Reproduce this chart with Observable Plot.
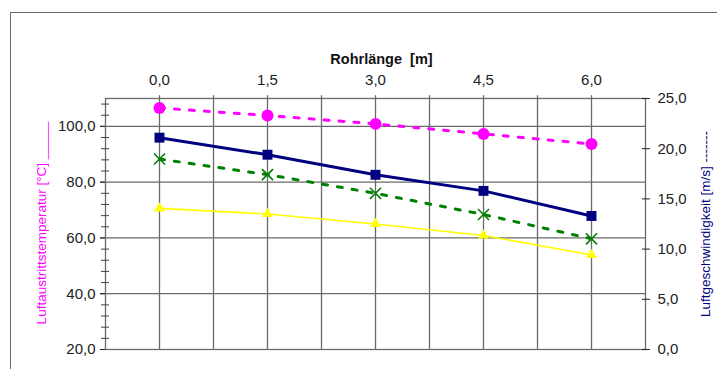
<!DOCTYPE html>
<html><head><meta charset="utf-8">
<script src="https://cdn.jsdelivr.net/npm/d3@7"></script>
<script src="https://cdn.jsdelivr.net/npm/@observablehq/plot@0.6"></script>
<style>
html,body{margin:0;padding:0;background:#fff;overflow:hidden;}
#wrap{position:relative;width:717px;height:369px;overflow:hidden;}
#border{position:absolute;left:10px;top:12px;width:800px;height:400px;border-top:1.5px solid #6e6e6e;border-left:1.5px solid #6e6e6e;pointer-events:none;}
#chart{position:absolute;left:0;top:0;}
</style></head><body>
<div id="wrap"><div id="chart"></div><div id="border"></div></div>
<script>
// x: Rohrlänge [m]
const positions = [0, 1.5, 3.0, 4.5, 6.0];
// left axis series (°C)
const tempMagenta = [106.6, 103.9, 100.9, 97.3, 93.7];
const tempGreen = [88.3, 82.7, 76.0, 68.4, 59.7];
const tempYellow = [70.6, 68.6, 65.0, 60.9, 53.9];
// right axis series (m/s)
const speedNavy = [21.1, 19.4, 17.4, 15.8, 13.3];
// ticks
const xTicks = [0, 1.5, 3.0, 4.5, 6.0];
const xGrid = [0, 0.75, 1.5, 2.25, 3.0, 3.75, 4.5, 5.25, 6.0];
const leftTicks = [20, 40, 60, 80, 100];
const leftMinor = [24, 28, 32, 36, 44, 48, 52, 56, 64, 68, 72, 76, 84, 88, 92, 96, 104, 108];
const rightTicks = [0, 5, 10, 15, 20, 25];
const xTitle = "Rohrlänge \u00a0[m]";
const leftTitle = "Luftaustrittstemperatur [°C] _____";
const rightTitle = "Luftgeschwindigkeit [m/s] -------";

const yDomain = [20, 110];
const rightDomain = [0, 25];
const toLeft = d3.scaleLinear().domain(rightDomain).range(yDomain);
const fmt = d => d.toFixed(1).replace(".", ",");

const mk = arr => positions.map((x, i) => ({x, y: arr[i]}));
const magenta = mk(tempMagenta);
const green = mk(tempGreen);
const yellow = mk(tempYellow);
const navy = positions.map((x, i) => ({x, y: toLeft(speedNavy[i])}));

const gridColor = "#6a6a6a";
const chart = Plot.plot({
  width: 717,
  height: 369,
  marginLeft: 105,
  marginRight: 72,
  marginTop: 98,
  marginBottom: 20,
  style: {fontFamily: "'Liberation Sans', Arial, sans-serif", fontSize: "15px", background: "transparent"},
  x: {domain: [-0.75, 6.75], axis: null},
  y: {domain: yDomain, axis: null},
  marks: [
    Plot.ruleY(leftTicks.slice(1), {stroke: gridColor, strokeWidth: 1.3, insetLeft: -5}),
    Plot.ruleX(xGrid, {y1: 20, y2: 111, stroke: gridColor, strokeWidth: 1.3}),
    Plot.frame({stroke: gridColor, strokeWidth: 1.3}),
    Plot.axisY(leftTicks, {anchor: "left", tickSize: 5, tickPadding: 5, tickFormat: fmt, label: null, color: "#222", fontSize: 15}),
    Plot.axisY(leftMinor, {anchor: "left", tickSize: 8, dx: 4, tickFormat: () => "", label: null, stroke: "#444"}),
    Plot.axisY(rightTicks.map(toLeft), {anchor: "right", tickSize: 8, dx: -4, tickPadding: 8, tickFormat: d => fmt(toLeft.invert(d)), label: null, color: "#222", fontSize: 15}),
    Plot.axisX(xTicks, {anchor: "top", tickSize: 0, tickPadding: 14, tickFormat: fmt, label: null, color: "#222", fontSize: 15}),
    Plot.text([xTitle], {frameAnchor: "top", dx: 6, dy: -45, fontWeight: "bold", fontSize: 14.5, fill: "#111"}),
    Plot.text([leftTitle], {frameAnchor: "left", textAnchor: "middle", dx: -64, dy: -1, rotate: -90, fontSize: 13.5, fill: "#ff00ff"}),
    Plot.text([rightTitle], {frameAnchor: "right", textAnchor: "middle", dx: 60, dy: 0, rotate: -90, fontSize: 13.5, fill: "#000080"}),
    // series
    Plot.line(yellow, {x: "x", y: "y", stroke: "#ffff00", strokeWidth: 1.6}),
    Plot.dot(yellow, {x: "x", y: "y", symbol: "triangle", r: 4, fill: "#ffff00", stroke: "none"}),
    Plot.line(green, {x: "x", y: "y", stroke: "#008000", strokeWidth: 3, strokeDasharray: "5,10"}),
    Plot.dot(green, {x: "x", y: "y", symbol: "times", r: 5.1, stroke: "#008000", strokeWidth: 1.6}),
    Plot.line(navy, {x: "x", y: "y", stroke: "#000080", strokeWidth: 3}),
    Plot.dot(navy, {x: "x", y: "y", symbol: "square", r: 5.6, fill: "#000080", stroke: "none"}),
    Plot.line(magenta, {x: "x", y: "y", stroke: "#ff00ff", strokeWidth: 3, strokeDasharray: "5,10"}),
    Plot.dot(magenta, {x: "x", y: "y", r: 6, fill: "#ff00ff", stroke: "none"})
  ]
});
document.getElementById("chart").appendChild(chart);
</script>
</body></html>
